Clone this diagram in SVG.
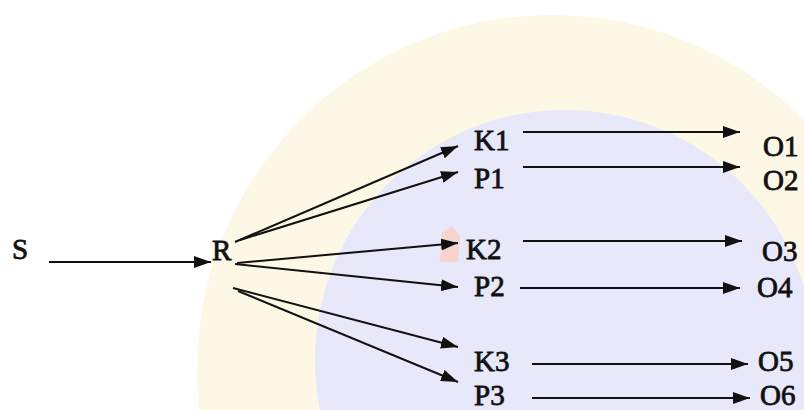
<svg xmlns="http://www.w3.org/2000/svg" width="804" height="410" viewBox="0 0 804 410">
<style>
text{font-family:'Liberation Serif','DejaVu Serif','Times New Roman',serif;font-size:29px;fill:#111;stroke:#111;stroke-width:0.8;}
.c line{stroke:#111;stroke-width:2;marker-end:url(#ah);}
</style>
<defs>
<marker id="ah" markerUnits="userSpaceOnUse" markerWidth="18" markerHeight="12" refX="17" refY="6" orient="auto">
<path d="M0,0 L17,6 L0,12 Z" fill="#111"/>
</marker>
</defs>
<rect width="804" height="410" fill="#ffffff"/>
<g id="watermark">
<circle cx="552" cy="370" r="355" fill="#fdf8e6"/>
<circle cx="565" cy="360" r="250" fill="#e7e8f9"/>
<path d="M442,232 L452,226 L460,236 L458,262 L440,262 Z" fill="#f8d3cf"/>
</g>
<g class="c" id="connectors">
<line x1="49" y1="262" x2="211" y2="262"/>
<line x1="235" y1="242" x2="458" y2="146"/>
<line x1="240" y1="240" x2="458" y2="172"/>
<line x1="237" y1="263" x2="458" y2="243"/>
<line x1="235" y1="264" x2="458" y2="287"/>
<line x1="233" y1="288" x2="458" y2="347"/>
<line x1="238" y1="291" x2="458" y2="382"/>
<line x1="523" y1="132" x2="740" y2="132"/>
<line x1="523" y1="167" x2="740" y2="167"/>
<line x1="523" y1="241" x2="742" y2="241"/>
<line x1="520" y1="288" x2="740" y2="288"/>
<line x1="532" y1="364" x2="748" y2="364"/>
<line x1="532" y1="398" x2="750" y2="398"/>
</g>
<g id="S"><text x="12" y="259">S</text></g>
<g id="R"><text x="212" y="260">R</text></g>
<g id="K1"><text x="474" y="150">K1</text></g>
<g id="P1"><text x="474" y="188">P1</text></g>
<g id="K2"><text x="466" y="259">K2</text></g>
<g id="P2"><text x="474" y="296">P2</text></g>
<g id="K3"><text x="474" y="371">K3</text></g>
<g id="P3"><text x="474" y="405">P3</text></g>
<g id="O1"><text x="763" y="156">O1</text></g>
<g id="O2"><text x="763" y="190">O2</text></g>
<g id="O3"><text x="762" y="261">O3</text></g>
<g id="O4"><text x="757" y="297">O4</text></g>
<g id="O5"><text x="758" y="371">O5</text></g>
<g id="O6"><text x="760" y="405">O6</text></g>
</svg>
